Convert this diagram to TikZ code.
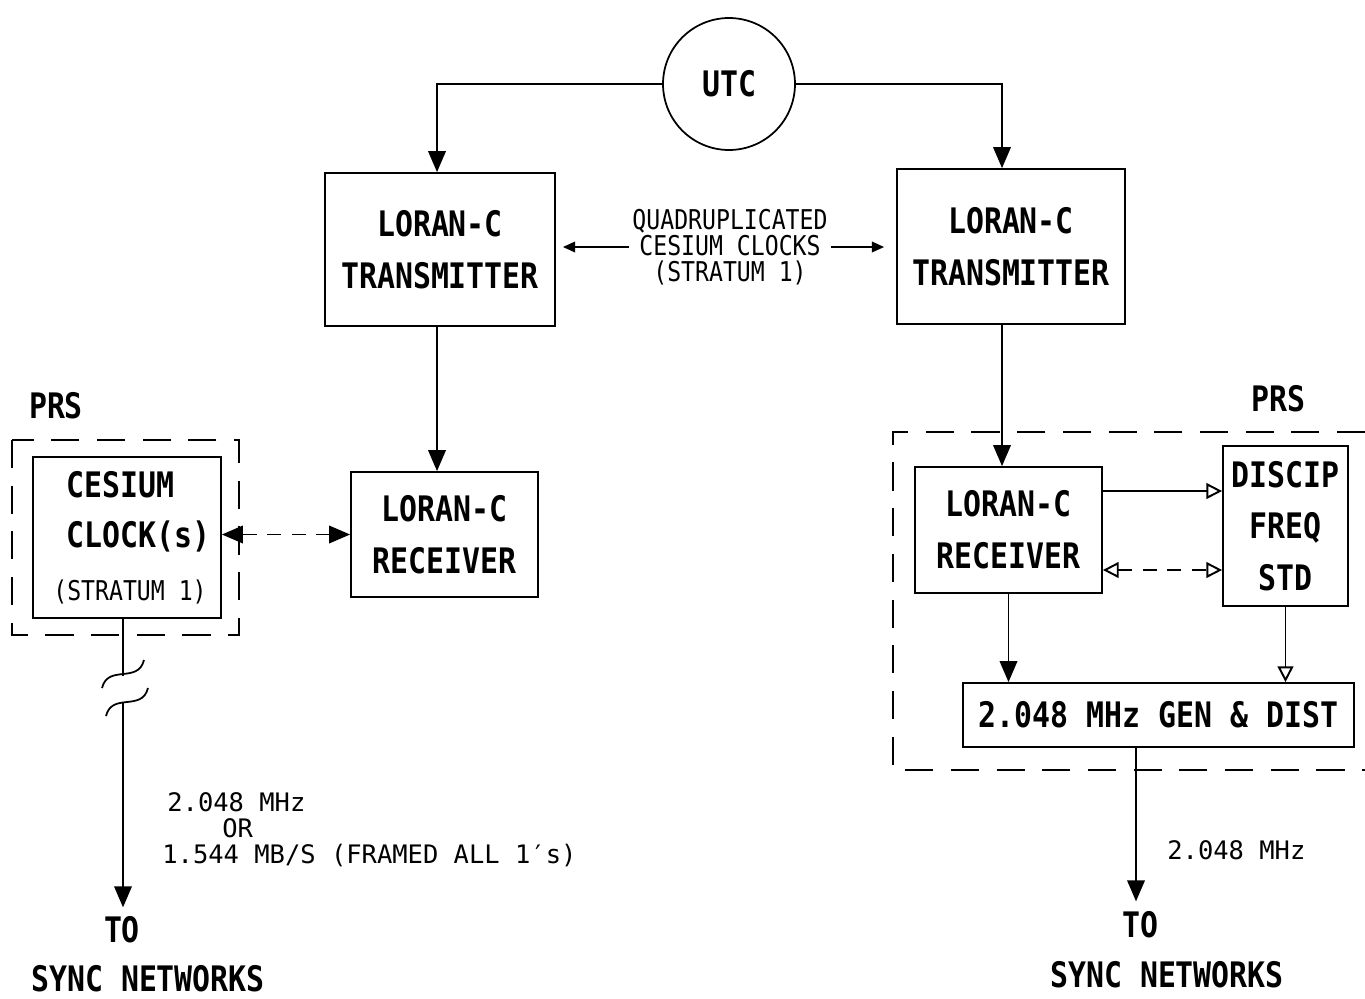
\documentclass[tikz,border=0pt]{standalone}
\usepackage{fontspec}
\usetikzlibrary{arrows.meta}
\newfontfamily\dgm[FakeStretch=0.85]{DejaVu Sans Mono}
\newfontfamily\dgplain{DejaVu Sans Mono}
\tikzset{
  box/.style={draw, line width=1pt, inner sep=0pt, align=center},
  big/.style={font={\dgm\bfseries\fontsize{20}{29.6}\selectfont}, inner sep=0pt, align=center},
  midtxt/.style={font={\dgm\fontsize{15.5}{14.8}\selectfont}, inner sep=2pt, align=center},
  lbl/.style={font={\dgplain\fontsize{14.5}{16}\selectfont}, inner sep=0pt},
  conn/.style={line width=1.1pt},
  dashline/.style={line width=1.1pt, dash pattern=on 8pt off 6pt},
  dashedbox/.style={line width=1pt, dash pattern=on 16pt off 10pt},
  tip/.tip={Triangle[length=12pt,width=10pt]},
  stip/.tip={Triangle[length=7pt,width=6pt]},
  otip/.tip={Triangle[open,length=9pt,width=9pt]},
}
\begin{document}
\begin{tikzpicture}[x=0.02cm,y=-0.02cm]
\useasboundingbox (0,0) rectangle (1365,998);

% top
\node[circle,draw,line width=1pt,minimum size=2.64cm,big] (utc) at (729,84) {UTC};
\node[box,big,minimum width=4.6cm,minimum height=3.06cm] (ltx) at (440,249.5) {LORAN-C\\TRANSMITTER};
\node[box,big,minimum width=4.56cm,minimum height=3.1cm] (rtx) at (1011,246.5) {LORAN-C\\TRANSMITTER};
\node[midtxt] (mid) at (730,247) {QUADRUPLICATED\\CESIUM CLOCKS\\(STRATUM 1)};

% left side
\node[box,big,minimum width=3.74cm,minimum height=2.5cm] (lrx) at (444.5,534.5) {LORAN-C\\RECEIVER};
\node[box,minimum width=3.76cm,minimum height=3.22cm] (ces) at (127,537.5) {};
\node[big,anchor=west] (cesA) at (66,485) {CESIUM};
\node[big,anchor=west] (cesB) at (66,536) {CLOCK(s)};
\node[midtxt,inner sep=0pt] (cesC) at (130,592) {(STRATUM 1)};
\node[big] (prsL) at (56,406) {PRS};
\draw[dashedbox] (12,440) rectangle (239,635);

% right side
\node[box,big,minimum width=3.74cm,minimum height=2.52cm] (rrx) at (1008.5,530) {LORAN-C\\RECEIVER};
\node[box,big,minimum width=2.5cm,minimum height=3.2cm,font={\dgm\bfseries\fontsize{20}{29.3}\selectfont}] (disc) at (1285.5,526) {DISCIP\\FREQ\\STD};
\node[box,big,minimum width=7.82cm,minimum height=1.28cm] (gen) at (1158.5,715) {2.048 MHz GEN \& DIST};
\node[big] (prsR) at (1278,399) {PRS};
\draw[dashedbox] (1365,432) -- (893,432) -- (893,770) -- (1365,770);

% bottom texts
\node[big] (toL) at (122,930) {TO};
\node[big] (syncL) at (148,979) {SYNC NETWORKS};
\node[big] (toR) at (1140,925) {TO};
\node[big] (syncR) at (1167,975) {SYNC NETWORKS};
\node[lbl,anchor=west] (fL1) at (167,802) {2.048 MHz};
\node[lbl,anchor=west] (fL2) at (222,828) {OR};
\node[lbl,anchor=west] (fL3) at (162,855) {1.544 MB/S (FRAMED ALL 1′s)};
\node[lbl,anchor=west] (fR) at (1167,850) {2.048 MHz};

% connectors top
\draw[conn,-tip] (utc.west) -| ([xshift=-0.06cm]ltx.north);
\draw[conn,-tip] (utc.east) -| ([xshift=-0.18cm]rtx.north);
\draw[conn,-tip] ([xshift=-0.06cm]ltx.south) -- ([xshift=-0.06cm]ltx.south |- lrx.north);
\draw[conn,-tip] ([xshift=-0.18cm]rtx.south) -- ([xshift=-0.18cm]rtx.south |- rrx.north);
\draw[conn,-stip,shorten >=0.14cm] (mid.west) -- (mid.west -| ltx.east);
\draw[conn,-stip,shorten >=0.24cm] (mid.east) -- (mid.east -| rtx.west);

% left connectors
\draw[dashline,{tip}-{tip}] (lrx.west -| ces.east) -- (lrx.west);
\coordinate (b1) at (123,676);
\coordinate (b2) at (123,703);
\draw[conn] (ces.south -| b1) -- (b1);
\draw[conn,-tip,shorten >=0.18cm] (b2) -- (b2 |- toL.north);
\draw[line width=1pt] (102,688) .. controls (108,664) and (138,684) .. (144,660);
\draw[line width=1pt] (106,716) .. controls (112,692) and (142,712) .. (148,688);

% right connectors
\draw[conn,-otip] ([yshift=0.78cm]rrx.east) -- ([yshift=0.78cm]rrx.east -| disc.west);
\draw[dashline,{otip}-{otip}] ([yshift=-0.8cm]rrx.east) -- ([yshift=-0.8cm]rrx.east -| disc.west);
\draw[conn,-tip] (rrx.south) -- (rrx.south |- gen.north);
\draw[conn,-otip] (disc.south) -- (disc.south |- gen.north);
\draw[conn,-tip,shorten >=0.2cm] ([xshift=-0.45cm]gen.south) -- ([xshift=-0.45cm]gen.south |- toR.north);
\end{tikzpicture}
\end{document}
